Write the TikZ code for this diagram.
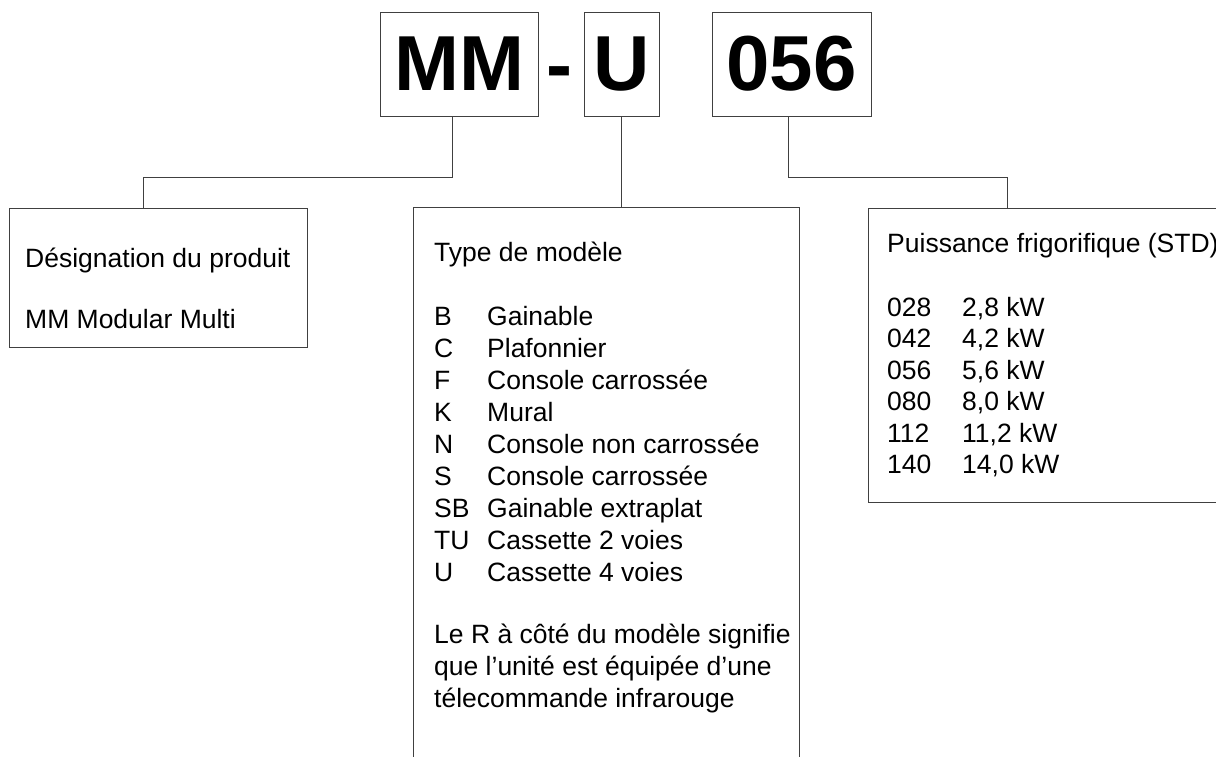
\documentclass[tikz,border=0pt]{standalone}
\usepackage{fontspec}
\setmainfont{Liberation Sans}
\begin{document}
\begin{tikzpicture}[x=1pt,y=-1pt,
  codebox/.style={draw=black!75, line width=0.9pt, inner sep=0pt, minimum height=104pt, font=\fontsize{78}{78}\selectfont\bfseries},
  infobox/.style={draw=black!75, line width=0.9pt, inner sep=0pt, anchor=north west},
  txt/.style={anchor=base west, inner sep=0pt, font=\fontsize{26.5}{31}\selectfont},
  link/.style={draw=black!75, line width=0.9pt}]
\useasboundingbox (0,0) rectangle (1216,756);
\clip (0,0) rectangle (1216,756);
% code boxes
\node[codebox, minimum width=158pt] (mm) at (459,64) {MM};
\node[anchor=base, inner sep=0pt, font=\fontsize{78}{78}\selectfont\bfseries] (dash) at (559.5,91) {-};
\node[codebox, minimum width=75pt] (ubox) at (621.5,64) {U};
\node[codebox, minimum width=159pt] (cap) at (791.5,64) {056};
% info boxes
\node[infobox, minimum width=298pt, minimum height=139pt] (desig) at (9,208) {};
\node[infobox, minimum width=386pt, minimum height=600pt] (typ) at (413,207) {};
\node[infobox, minimum width=400pt, minimum height=294pt] (pw) at (868,208) {};
% connectors
\draw[link] ([xshift=-7pt]mm.south) |- (143,177) coordinate (mmknee) -- (mmknee |- desig.north);
\draw[link] (ubox.south) -- (ubox.south |- typ.north);
\draw[link] ([xshift=-3.5pt]cap.south) |- (1007,177) coordinate (capknee) -- (capknee |- pw.north);
% left box
\node[txt] (desigtitle) at (25,267) {Désignation du produit};
\node[txt] (designame) at (25,328) {MM Modular Multi};
% middle box
\node[txt] (typtitle) at (434,261) {Type de modèle};
\foreach \code/\label [count=\i] in {B/Gainable, C/Plafonnier, F/Console carrossée, K/Mural,
    N/Console non carrossée, S/Console carrossée, SB/Gainable extraplat,
    TU/Cassette 2 voies, U/Cassette 4 voies} {
  \node[txt] (typcode\i) at (434,293+32*\i) {\code};
  \node[txt] (typname\i) at (487,293+32*\i) {\label};
}
\node[txt] (note1) at (434,643) {Le R à côté du modèle signifie};
\node[txt] (note2) at (434,675) {que l’unité est équipée d’une};
\node[txt] (note3) at (434,707) {télecommande infrarouge};
% right box
\node[txt] (pwtitle) at (887,252) {Puissance frigorifique (STD)};
\foreach \code/\val [count=\i] in {028/{2,8 kW}, 042/{4,2 kW}, 056/{5,6 kW},
    080/{8,0 kW}, 112/{11,2 kW}, 140/{14,0 kW}} {
  \node[txt] (pwcode\i) at (887,284.5+31.5*\i) {\code};
  \node[txt] (pwval\i) at (962,284.5+31.5*\i) {\val};
}
\end{tikzpicture}
\end{document}
